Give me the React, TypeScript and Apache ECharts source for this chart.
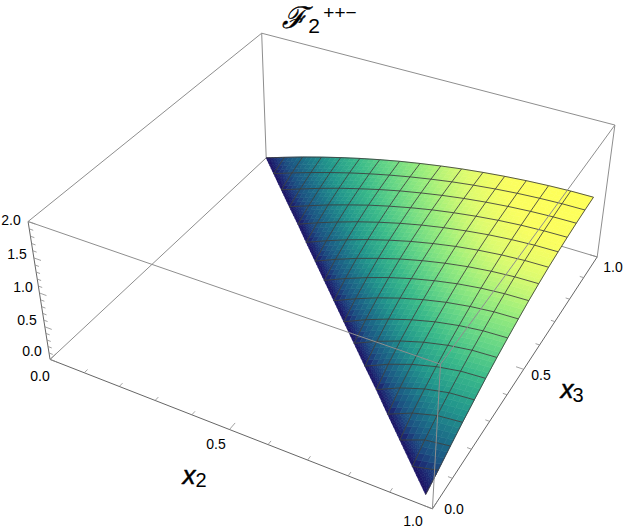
import React, { useEffect, useRef } from "react";
import * as echarts from "echarts";

const W = 623, H = 530;
const x2Levels = [0,.061,.121,.182,.243,.303,.364,.424,.485,.546,.606,.667,.728,.788,.849,.909,.97];
const x3Levels = [.03,.091,.151,.212,.273,.333,.394,.454,.515,.576,.636,.697,.758,.818,.879,.939,1];
// surface height: one row per x3 level, starting on the diagonal x2 + x3 = 1 and ending at the largest x2
const zRows: number[][] = [
 [0],
 [0,.09],
 [0,.139,.19],
 [0,.153,.25,.285],
 [0,.156,.271,.343,.37],
 [0,.156,.279,.371,.429,.45],
 [0,.154,.282,.384,.46,.508,.525],
 [0,.15,.278,.386,.472,.535,.575,.59],
 [0,.146,.274,.384,.476,.549,.603,.638,.65],
 [0,.142,.268,.379,.474,.554,.618,.665,.694,.705],
 [0,.136,.26,.369,.466,.549,.619,.674,.715,.741,.75],
 [0,.131,.25,.359,.455,.54,.613,.675,.723,.759,.782,.79],
 [0,.125,.24,.345,.44,.526,.6,.664,.718,.761,.793,.813,.82],
 [0,.119,.23,.331,.425,.509,.585,.651,.707,.755,.793,.821,.838,.845],
 [0,.113,.22,.318,.408,.491,.567,.633,.692,.743,.785,.818,.843,.859,.865],
 [0,.108,.209,.304,.392,.473,.546,.613,.673,.726,.771,.809,.839,.861,.875,.88],
 [0,.102,.199,.29,.375,.453,.526,.592,.651,.705,.752,.792,.826,.853,.873,.886,.89],
];
const axisTicks = [0,0.1,0.2,0.3,0.4,0.5,0.6,0.7,0.8,0.9,1.0];
const zTicks = [0,0.1,0.2,0.3,0.4,0.5,0.6,0.7,0.8,0.9,1,1.1,1.2,1.3,1.4,1.5,1.6,1.7,1.8,1.9,2];
const zMax = 2.0;
const zColorTop = 0.89;
const colorStops = [[0,"#1b0f63"],[.06,"#1c3478"],[.12,"#1c5282"],[.22,"#1c6e88"],[.35,"#22968c"],[.5,"#3aba8a"],[.62,"#66d686"],[.74,"#9cee7c"],[.85,"#dcfb6f"],[.93,"#fafe60"],[1,"#ffff58"]] as [number,string][];
const corners:[number,number,number,number,number][] = [
 [0,0,0,50,359],[1,0,0,433,509],[0,1,0,266,158],[1,1,0,597,257],
 [0,0,1,28,222],[1,0,1,440,364],[0,1,1,262,33],[1,1,1,615,125]];

function solveCamera(){
  const rows:number[][]=[];const rhs:number[]=[];
  for(const [u,v,w,x,y] of corners){
    rows.push([1,u,v,w,0,0,0,0,-x*u,-x*v,-x*w]);rhs.push(x);
    rows.push([0,0,0,0,1,u,v,w,-y*u,-y*v,-y*w]);rhs.push(y);
  }
  const n=11;const A=Array.from({length:n},()=>new Array(n+1).fill(0));
  rows.forEach((r,k)=>{for(let a=0;a<n;a++){for(let b=0;b<n;b++)A[a][b]+=r[a]*r[b];A[a][n]+=r[a]*rhs[k];}});
  for(let c=0;c<n;c++){let p=c;for(let r=c+1;r<n;r++)if(Math.abs(A[r][c])>Math.abs(A[p][c]))p=r;
    [A[c],A[p]]=[A[p],A[c]];
    for(let r=0;r<n;r++){if(r===c)continue;const f=A[r][c]/A[c][c];for(let q=c;q<=n;q++)A[r][q]-=f*A[c][q];}}
  return A.map((r,i)=>r[n]/r[i]);
}
const cam=solveCamera();
function project(u:number,v:number,z:number):[number,number]{
  const w=z/zMax;const d=1+cam[8]*u+cam[9]*v+cam[10]*w;
  return [(cam[0]+cam[1]*u+cam[2]*v+cam[3]*w)/d,(cam[4]+cam[5]*u+cam[6]*v+cam[7]*w)/d];
}
function hex(c:string){return [1,3,5].map(i=>parseInt(c.slice(i,i+2),16));}
function colorOf(z:number){
  const t=Math.max(0,Math.min(1,z/zColorTop));
  for(let i=1;i<colorStops.length;i++){if(t<=colorStops[i][0]){
    const [a,ca]=colorStops[i-1],[b,cb]=colorStops[i];const f=(t-a)/(b-a);const A=hex(ca),B=hex(cb);
    return `rgb(${A.map((q,k)=>Math.round(q+(B[k]-q)*f)).join(",")})`;}}
  return colorStops[colorStops.length-1][1];
}
const zAt=(i:number,j:number)=>zRows[j][i+j-16];
type V=[number,number,number];
const node=(i:number,j:number):V=>[x2Levels[i],x3Levels[j],zAt(i,j)];
function buildPatches(){
  const out:V[][]=[];const N=4,NT=6;
  const lerp=(a:V,b:V,t:number):V=>[a[0]+(b[0]-a[0])*t,a[1]+(b[1]-a[1])*t,a[2]+(b[2]-a[2])*t];
  for(let j=0;j<16;j++)for(let i=0;i<16;i++){
    if(i+j<15)continue;
    if(i+j===15){
      const a=node(i+1,j),b=node(i,j+1),c=node(i+1,j+1);
      const pt=(p:number,q:number):V=>{const r=NT-p-q;return [(a[0]*r+b[0]*p+c[0]*q)/NT,(a[1]*r+b[1]*p+c[1]*q)/NT,(a[2]*r+b[2]*p+c[2]*q)/NT];};
      for(let p=0;p<NT;p++)for(let q=0;q<NT-p;q++){
        out.push([pt(p,q),pt(p+1,q),pt(p,q+1)]);
        if(p+q<NT-1)out.push([pt(p+1,q),pt(p+1,q+1),pt(p,q+1)]);
      }
    }else{
      const a=node(i,j),b=node(i+1,j),c=node(i+1,j+1),d=node(i,j+1);
      const pt=(s:number,t:number)=>lerp(lerp(a,b,s/N),lerp(d,c,s/N),t/N);
      for(let s=0;s<N;s++)for(let t=0;t<N;t++)out.push([pt(s,t),pt(s+1,t),pt(s+1,t+1),pt(s,t+1)]);
    }
  }
  return out;
}
const patches=buildPatches();
function buildMesh(){
  const lines:V[][]=[];
  for(let j=1;j<=16;j++){const l:V[]=[];for(let i=16-j;i<=16;i++)l.push(node(i,j));lines.push(l);}
  for(let i=0;i<=16;i++){const l:V[]=[];for(let j=16-i;j<=16;j++)l.push(node(i,j));lines.push(l);}
  return lines;
}
const meshLines=buildMesh();
const c=(u:number,v:number,w:number):V=>[u,v,w*zMax];
const backEdges:V[][]=[[c(0,0,0),c(0,1,0)],[c(0,1,0),c(1,1,0)],[c(0,1,0),c(0,1,1)],[c(0,0,1),c(0,1,1)],[c(0,1,1),c(1,1,1)],[c(1,1,0),c(1,1,1)]];
const frontEdges:V[][]=[[c(0,0,1),c(1,0,1)],[c(1,0,1),c(1,1,1)],[c(1,0,0),c(1,0,1)]];
const axisEdges:V[][]=[[c(0,0,0),c(1,0,0)],[c(1,0,0),c(1,1,0)],[c(0,0,0),c(0,0,1)]];
function buildTicks(){
  const t:V[][]=[];const big=(n:number)=>Math.abs(n*2-Math.round(n*2))<1e-6;
  for(const x of axisTicks){const l=big(x)?.024:.013;
    t.push([[x,0,0],[x,l,0]]);t.push([[1,x,0],[1-l*.8,x,0]]);}
  for(const z of zTicks){const l=big(z)?.02:.011;t.push([[0,0,z],[l,0,z]]);}
  return t;
}
const ticks=buildTicks();
const F='"Liberation Sans"';
const tickText:[string,number,number][]=[["2.0",11,220],["1.5",17,254],["1.0",23,287],["0.5",27,320],["0.0",32,351],
 ["0.0",40,376],["0.5",216,444],["1.0",413,521],["0.0",454,509],["0.5",541,375],["1.0",613,267]];
const txt=(text:string,x:number,y:number,font:string,extra:any={})=>({type:"text",x,y,silent:true,style:{text,font,fill:"#000",align:"center",verticalAlign:"middle",textAlign:"center",textVerticalAlign:"middle",...extra}});

export default function App(){
  const ref=useRef<HTMLDivElement>(null);
  useEffect(()=>{
    const chart=echarts.init(ref.current!,null,{renderer:"svg"});
    const lineSeries=(lines:V[][],stroke:string,width:number,z:number)=>({
      type:"custom",coordinateSystem:"cartesian2d",silent:true,z,clip:false,
      data:lines.map((_,i)=>[i,0]),
      renderItem:(p:any,api:any)=>({type:"polyline",silent:true,
        shape:{points:lines[p.dataIndex].map(q=>api.coord(project(q[0],q[1],q[2])))},
        style:{stroke,fill:"none",lineWidth:width}}),
    });
    const boldX={stroke:"#000",lineWidth:.5};
    chart.setOption({
      animation:false,
      backgroundColor:"#fff",
      grid:{left:0,top:0,right:0,bottom:0},
      xAxis:{type:"value",min:0,max:W,show:false},
      yAxis:{type:"value",min:0,max:H,inverse:true,show:false},
      graphic:[...tickText.map(t=>txt(t[0],t[1],t[2],`14px ${F}`)),
        txt("ℱ",294,17,'italic 30px "DejaVu Serif"',{stroke:"#000",lineWidth:.4}),
        txt("2",314,25,`21px ${F}`),
        txt("++−",340,12,`19px ${F}`),
        txt("x",189,475,`italic 26px ${F}`,boldX),
        txt("2",201,480,`20px ${F}`),
        txt("x",567,389,`italic 26px ${F}`,boldX),
        txt("3",578,395,`20px ${F}`),
      ],
      series:[
        lineSeries(backEdges,"#8e8e8e",1,1),
        lineSeries(axisEdges,"#666",1,1),
        lineSeries(ticks,"#8a8a8a",0.8,1),
        {type:"custom",coordinateSystem:"cartesian2d",silent:true,z:2,clip:false,
         data:patches.map((_,i)=>[i,0]),
         renderItem:(p:any,api:any)=>{const q=patches[p.dataIndex];const zm=q.reduce((s,v)=>s+v[2],0)/q.length;const col=colorOf(zm);
           return {type:"polygon",silent:true,shape:{points:q.map(v=>api.coord(project(v[0],v[1],v[2])))},style:{fill:col,stroke:col,lineWidth:.6}};}},
        lineSeries(meshLines,"rgba(60,60,60,.85)",1,3),
        lineSeries(frontEdges,"#8e8e8e",1,4),
      ],
    });
    return ()=>chart.dispose();
  },[]);
  return <div ref={ref} style={{position:"fixed",left:0,top:0,width:W,height:H}}/>;
}
